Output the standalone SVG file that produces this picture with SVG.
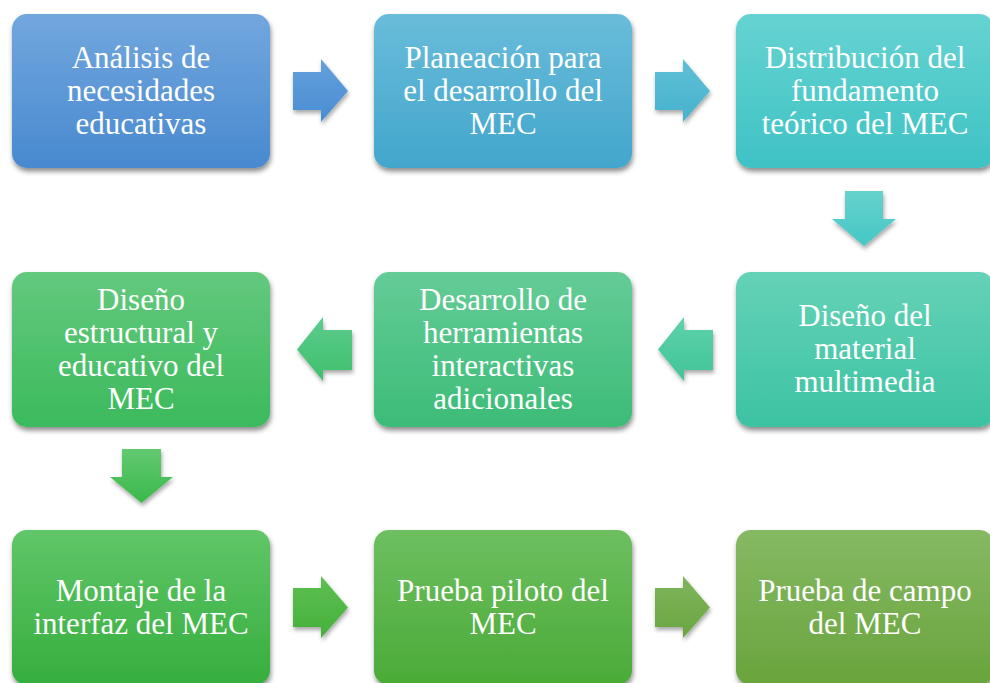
<svg xmlns="http://www.w3.org/2000/svg" width="990" height="683" viewBox="0 0 990 683">
<style>
.t{font-family:"Liberation Serif","Times New Roman",serif;font-size:31px;fill:#ffffff;text-anchor:middle}
.box{filter:url(#sh)}
.arr{filter:url(#sha)}
</style>
<defs>
<filter id="sh" x="-10%" y="-10%" width="125%" height="130%"><feDropShadow dx="1" dy="3.5" stdDeviation="2.5" flood-color="#000" flood-opacity="0.45"/></filter>
<filter id="sha" x="-20%" y="-20%" width="150%" height="160%"><feDropShadow dx="1" dy="3" stdDeviation="2" flood-color="#000" flood-opacity="0.35"/></filter>
<linearGradient id="g1" x1="0" y1="0" x2="0" y2="1"><stop offset="0" stop-color="#72a7de"/><stop offset="1" stop-color="#4889cf"/></linearGradient>
<linearGradient id="g2" x1="0" y1="0" x2="0" y2="1"><stop offset="0" stop-color="#69bcda"/><stop offset="1" stop-color="#43a6cc"/></linearGradient>
<linearGradient id="g3" x1="0" y1="0" x2="0" y2="1"><stop offset="0" stop-color="#66d3d2"/><stop offset="1" stop-color="#3fc2c4"/></linearGradient>
<linearGradient id="g4" x1="0" y1="0" x2="0" y2="1"><stop offset="0" stop-color="#65d2b7"/><stop offset="1" stop-color="#3cc3a2"/></linearGradient>
<linearGradient id="g5" x1="0" y1="0" x2="0" y2="1"><stop offset="0" stop-color="#64cc97"/><stop offset="1" stop-color="#3cbc77"/></linearGradient>
<linearGradient id="g6" x1="0" y1="0" x2="0" y2="1"><stop offset="0" stop-color="#63c97d"/><stop offset="1" stop-color="#3cba5d"/></linearGradient>
<linearGradient id="g7" x1="0" y1="0" x2="0" y2="1"><stop offset="0" stop-color="#60c668"/><stop offset="1" stop-color="#36ae3e"/></linearGradient>
<linearGradient id="g8" x1="0" y1="0" x2="0" y2="1"><stop offset="0" stop-color="#6ebf60"/><stop offset="1" stop-color="#4aab37"/></linearGradient>
<linearGradient id="g9" x1="0" y1="0" x2="0" y2="1"><stop offset="0" stop-color="#86b964"/><stop offset="1" stop-color="#69a43c"/></linearGradient>
<linearGradient id="a1" x1="0" y1="0" x2="0" y2="1"><stop offset="0" stop-color="#64a0dc"/><stop offset="1" stop-color="#4a8dd3"/></linearGradient>
<linearGradient id="a2" x1="0" y1="0" x2="0" y2="1"><stop offset="0" stop-color="#60bfd8"/><stop offset="1" stop-color="#46b2cc"/></linearGradient>
<linearGradient id="a3" x1="0" y1="0" x2="0" y2="1"><stop offset="0" stop-color="#66d2cc"/><stop offset="1" stop-color="#45c7c6"/></linearGradient>
<linearGradient id="a4" x1="0" y1="0" x2="0" y2="1"><stop offset="0" stop-color="#5ed2ab"/><stop offset="1" stop-color="#42c497"/></linearGradient>
<linearGradient id="a5" x1="0" y1="0" x2="0" y2="1"><stop offset="0" stop-color="#5ccc8d"/><stop offset="1" stop-color="#3ebf6c"/></linearGradient>
<linearGradient id="a6" x1="0" y1="0" x2="0" y2="1"><stop offset="0" stop-color="#62ca72"/><stop offset="1" stop-color="#3bb84a"/></linearGradient>
<linearGradient id="a7" x1="0" y1="0" x2="0" y2="1"><stop offset="0" stop-color="#5ec052"/><stop offset="1" stop-color="#45b03a"/></linearGradient>
<linearGradient id="a8" x1="0" y1="0" x2="0" y2="1"><stop offset="0" stop-color="#80b55c"/><stop offset="1" stop-color="#69a640"/></linearGradient>
</defs>
<rect x="0" y="0" width="990" height="683" fill="#ffffff"/>

<g id="connectors">
<polygon class="arr" fill="url(#a1)" points="293,72 321,72 321,59 348,91 321,122 321,110 293,110"/>
<polygon class="arr" fill="url(#a2)" points="655,72 683,72 683,59 710,91 683,122 683,110 655,110"/>
<polygon class="arr" fill="url(#a3)" points="845,191 883,191 883,219 896,219 864,246 832,219 845,219"/>
<polygon class="arr" fill="url(#a4)" points="713,330 684,330 684,317 658,349.5 684,381 684,370 713,370"/>
<polygon class="arr" fill="url(#a5)" points="352,330 323,330 323,317 297,349.5 323,381 323,370 352,370"/>
<polygon class="arr" fill="url(#a6)" points="122,449 161,449 161,477 173,477 141.5,503 110,477 122,477"/>
<polygon class="arr" fill="url(#a7)" points="293,588 321,588 321,576 348,607.5 321,638 321,627 293,627"/>
<polygon class="arr" fill="url(#a8)" points="655,588 683,588 683,576 710,607.5 683,638 683,627 655,627"/>
</g>

<g id="n1"><rect class="box" x="12" y="14" width="258" height="154" rx="15" fill="url(#g1)"/>
<text class="t" x="141" y="68">Análisis de</text><text class="t" x="141" y="101">necesidades</text><text class="t" x="141" y="134">educativas</text></g>

<g id="n2"><rect class="box" x="374" y="14" width="258" height="154" rx="15" fill="url(#g2)"/>
<text class="t" x="503" y="68">Planeación para</text><text class="t" x="503" y="101">el desarrollo del</text><text class="t" x="503" y="134">MEC</text></g>

<g id="n3"><rect class="box" x="736" y="14" width="258" height="154" rx="15" fill="url(#g3)"/>
<text class="t" x="865" y="68">Distribución del</text><text class="t" x="865" y="101">fundamento</text><text class="t" x="865" y="134">teórico del MEC</text></g>

<g id="n4"><rect class="box" x="736" y="272" width="258" height="155" rx="15" fill="url(#g4)"/>
<text class="t" x="865" y="326">Diseño del</text><text class="t" x="865" y="359">material</text><text class="t" x="865" y="392">multimedia</text></g>

<g id="n5"><rect class="box" x="374" y="272" width="258" height="155" rx="15" fill="url(#g5)"/>
<text class="t" x="503" y="310">Desarrollo de</text><text class="t" x="503" y="343">herramientas</text><text class="t" x="503" y="376">interactivas</text><text class="t" x="503" y="409">adicionales</text></g>

<g id="n6"><rect class="box" x="12" y="272" width="258" height="155" rx="15" fill="url(#g6)"/>
<text class="t" x="141" y="310">Diseño</text><text class="t" x="141" y="343">estructural y</text><text class="t" x="141" y="376">educativo del</text><text class="t" x="141" y="409">MEC</text></g>

<g id="n7"><rect class="box" x="12" y="530" width="258" height="155" rx="15" fill="url(#g7)"/>
<text class="t" x="141" y="601">Montaje de la</text><text class="t" x="141" y="634">interfaz del MEC</text></g>

<g id="n8"><rect class="box" x="374" y="530" width="258" height="155" rx="15" fill="url(#g8)"/>
<text class="t" x="503" y="601">Prueba piloto del</text><text class="t" x="503" y="634">MEC</text></g>

<g id="n9"><rect class="box" x="736" y="530" width="258" height="155" rx="15" fill="url(#g9)"/>
<text class="t" x="865" y="601">Prueba de campo</text><text class="t" x="865" y="634">del MEC</text></g>
</svg>
